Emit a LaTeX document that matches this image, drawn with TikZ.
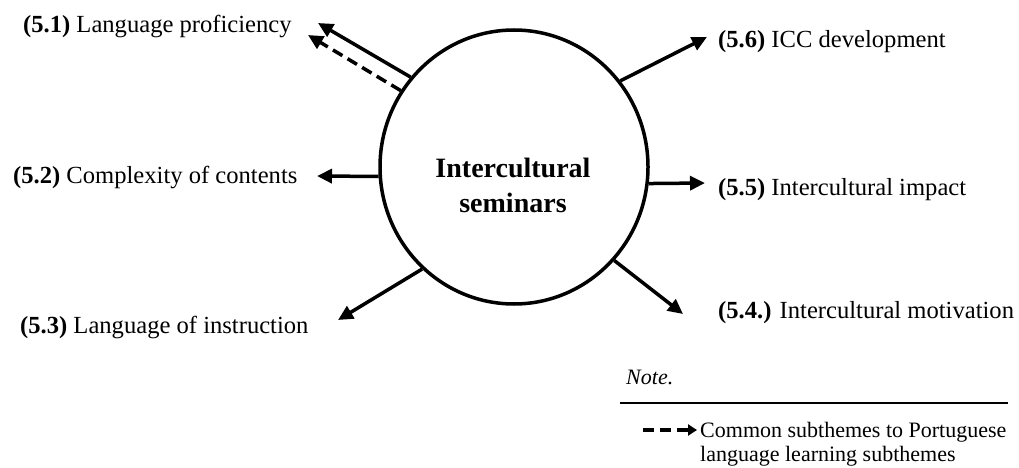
\documentclass[tikz,border=0pt]{standalone}
\usepackage{fontspec}
\setmainfont{Liberation Serif}
\usetikzlibrary{arrows.meta,shapes.geometric}
\begin{document}
\begin{tikzpicture}[x=1pt,y=-1pt,
  lbl/.style={anchor=base west, inner sep=0pt, font=\fontsize{24.6}{30}\selectfont},
  notetext/.style={anchor=base west, inner sep=0pt, font=\fontsize{22}{25}\selectfont},
  link/.style={line width=3.5pt, -{Triangle[length=15pt,width=14pt]}},
  commonlink/.style={link, dash pattern=on 11pt off 6pt}
]
\useasboundingbox (0,0) rectangle (1019,468);

% central theme
\node[draw, line width=3.5pt, ellipse, minimum width=268pt, minimum height=274pt, inner sep=0pt] (hub) at (514,167) {};
\node[anchor=base, inner sep=0pt, font=\fontsize{28}{34}\selectfont\bfseries] (t1text) at (513,177) {Intercultural};
\node[anchor=base, inner sep=0pt, font=\fontsize{28}{34}\selectfont\bfseries] (t2text) at (513,212) {seminars};

% subtheme labels
\node[lbl] (s1) at (23,33) {\textbf{(5.1)} Language proficiency};
\node[lbl] (s2) at (13,183) {\textbf{(5.2)} Complexity of contents};
\node[lbl] (s3) at (20,333) {\textbf{(5.3)} Language of instruction};
\node[lbl] (s4) at (718,318) {\textbf{(5.4.)} Intercultural motivation};
\node[lbl] (s5) at (718,195) {\textbf{(5.5)} Intercultural impact};
\node[lbl] (s6) at (718,48) {\textbf{(5.6)} ICC development};

% arrow tips
\coordinate (e1) at (318,23);
\coordinate (e1d) at (308,35);
\coordinate (e2) at (317,176);
\coordinate (e3) at (338,320);
\coordinate (e4) at (683,314);
\coordinate (e5) at (705,183);
\coordinate (e6) at (707,37);

\draw[link] (hub.139) -- (e1);
\draw[commonlink] (hub.146) -- (e1d);
\draw[link] (hub.184) -- (e2);
\draw[link] (hub.228) -- (e3);
\draw[link] (hub.-43) -- (e4);
\draw[link] (hub.-7) -- (e5);
\draw[link] (hub.39.6) -- (e6);

% legend
\node[notetext, font=\fontsize{22}{25}\selectfont\itshape] (note) at (626,384) {Note.};
\coordinate (ruleL) at (620,403);
\coordinate (ruleR) at (1008,403);
\draw[line width=2pt] (ruleL) -- (ruleR);
\coordinate (legA) at (643,430);
\coordinate (legB) at (697,430);
\draw[line width=4pt, dash pattern=on 11pt off 6pt, -{Triangle[length=9pt,width=11pt]}] (legA) -- (legB);
\node[notetext] (leg1) at (700,437) {Common subthemes to Portuguese};
\node[notetext] (leg2) at (700,461) {language learning subthemes};
\end{tikzpicture}
\end{document}
